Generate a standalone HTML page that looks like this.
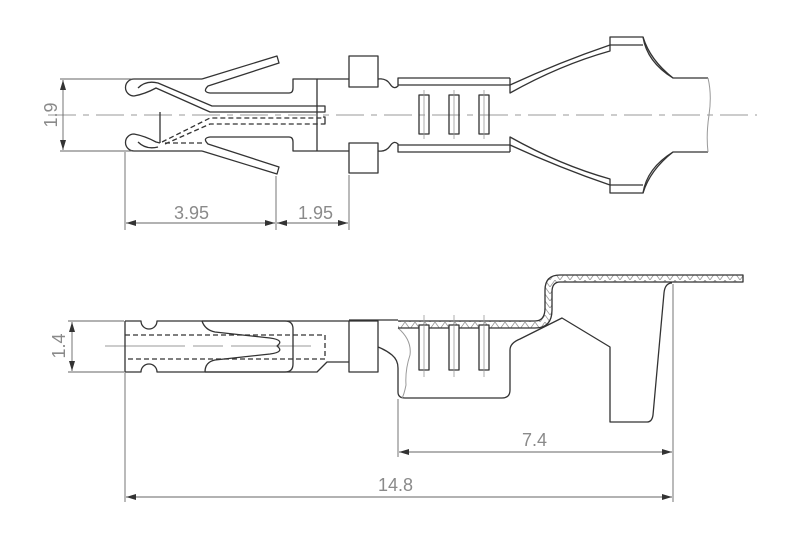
<!DOCTYPE html>
<html><head><meta charset="utf-8"><style>
html,body{margin:0;padding:0;background:#fff;}
svg{display:block;}
text{font-family:"Liberation Sans",sans-serif;fill:#8a8a8a;font-size:18px;}
</style></head><body>
<svg width="800" height="537" viewBox="0 0 800 537" xmlns="http://www.w3.org/2000/svg">
<defs>
<marker id="a" viewBox="0 0 10 6" refX="10" refY="3" markerWidth="10" markerHeight="6" orient="auto-start-reverse" markerUnits="userSpaceOnUse"><path d="M0,0 L10,3 L0,6z" fill="#333"/></marker>
<pattern id="h" width="10" height="7" patternUnits="userSpaceOnUse"><path d="M0,7 L5,0 L10,7" stroke="#999" fill="none" stroke-width="0.8"/></pattern>
</defs>
<g fill="none" stroke="#333" stroke-width="1.3" stroke-linejoin="round">
<line x1="48" y1="115" x2="757" y2="115" stroke="#999" stroke-width="1" stroke-dasharray="28,7,6,7"/>
<path d="M202,79 H134 A8.5,8.5 0 0 0 134,96 Q145,94 156,88 L210,112 H325 V106 H212 L158,83 Q146,80 138,88"/>
<path d="M202,79 L277,56 L279,63 L208,86 Q202,92 210,93 H289 Q293,93 293,88 V79 H317 V151"/>
<path d="M202,151 H134 A8.5,8.5 0 0 1 134,134 Q145,136 156,142 L160,143"/>
<path d="M138,142 Q146,150 158,147"/>
<path d="M202,151 L277,174 L279,167 L208,144 Q202,138 210,137 H289 Q293,137 293,142 V151 H317"/>
<line x1="160" y1="112" x2="160" y2="143"/>
<path d="M162,142 L210,118 H323 M165,144 L210,124 H323 M165,143 H203" stroke-dasharray="5,3"/>
<path d="M323,117 H325 V124 H323"/>
<rect x="349" y="56" width="29" height="31"/>
<rect x="349" y="143" width="29" height="30"/>
<path d="M317,79 H349 M317,151 H349"/>
<path d="M378,79 Q386,78 390,84 Q394,90 398,86 V78 H510 M398,85 H510"/>
<path d="M378,151 Q386,152 390,146 Q394,140 398,144 V152 H510 M398,145 H510"/>
<rect x="419" y="95" width="10" height="39"/><rect x="449" y="95" width="10" height="39"/><rect x="479" y="95" width="10" height="39"/>
<path d="M424,90 V139 M454,90 V139 M484,90 V139" stroke="#999" stroke-width="0.8"/>
<path d="M510,78 V93 Q560,65 610,51 V37 H643 Q650,60 673,78 H708"/>
<path d="M510,85 Q560,62 610,45 H643 M643,37 Q647,62 673,78"/>
<path d="M510,152 V137 Q560,165 610,179 V193 H643 Q650,170 673,152 H708"/>
<path d="M510,145 Q560,168 610,185 H643 M643,193 Q647,168 673,152"/>
<path d="M708,78 Q712,95 709,115 Q706,135 708,152" stroke="#999" stroke-width="1"/>
<g stroke="#666" stroke-width="0.9">
<path d="M60,79 H132 M60,151 H132"/>
<line x1="63" y1="80" x2="63" y2="150" marker-start="url(#a)" marker-end="url(#a)"/>
<path d="M125,152 V230 M276,176 V230 M349,175 V230"/>
<line x1="126" y1="223" x2="275" y2="223" marker-start="url(#a)" marker-end="url(#a)"/>
<line x1="277" y1="223" x2="348" y2="223" marker-start="url(#a)" marker-end="url(#a)"/>
</g>
<line x1="105" y1="346" x2="312" y2="346" stroke="#999" stroke-width="1" stroke-dasharray="80,8,30,8"/>
<path d="M125,321 H141 A8,8 0 0 0 157,321 H349 M125,321 V372 H141 A8,8 0 0 1 157,372 H317 L327,362 H349"/>
<path d="M202,321 Q205,330 215,332 L270,338 Q285,340 277,346 Q285,352 270,354 L215,360 Q205,362 205,372"/>
<path d="M202,321 H285 Q293,321 293,329 V364 Q293,372 285,372 H205"/>
<path d="M125,335 H325 V359 H125" stroke-dasharray="5,3"/>
<rect x="349" y="321" width="29" height="51"/>
<path d="M349,320 H398 M378,347 Q386,350 392,355 Q398,360 398,368 V392 Q398,398 405,398 H502 Q510,398 510,390 V350 Q510,343 520,339 L562,318 L610,347 V422 H647 Q652,422 653,415 L664,293 Q665,283 672,283"/>
<path d="M398,328 Q412,340 410,355 Q405,370 406,385 Q404,395 402,398" stroke="#999" stroke-width="1"/>
<path d="M398,321 H535 Q545,321 545,308 V290 Q545,275 560,275 H743 V282 H560 Q552,282 552,292 V310 Q552,328 535,328 H398" fill="url(#h)"/>
<rect x="419" y="325" width="10" height="45" fill="#fff"/><rect x="449" y="325" width="10" height="45" fill="#fff"/><rect x="479" y="325" width="10" height="45" fill="#fff"/>
<path d="M424,315 V377 M454,315 V377 M484,315 V377" stroke="#999" stroke-width="0.8"/>
<g stroke="#666" stroke-width="0.9">
<path d="M68,321 H124 M68,372 H124"/>
<line x1="72" y1="322" x2="72" y2="371" marker-start="url(#a)" marker-end="url(#a)"/>
<path d="M125,373 V502 M398,399 V457 M673,284 V502"/>
<line x1="399" y1="452" x2="672" y2="452" marker-start="url(#a)" marker-end="url(#a)"/>
<line x1="126" y1="497" x2="672" y2="497" marker-start="url(#a)" marker-end="url(#a)"/>
</g>
</g>
<text x="174" y="219">3.95</text>
<text x="298" y="219">1.95</text>
<text x="522" y="446">7.4</text>
<text x="378" y="491">14.8</text>
<text transform="translate(57,115) rotate(-90)" text-anchor="middle">1.9</text>
<text transform="translate(65,346) rotate(-90)" text-anchor="middle">1.4</text>
</svg>
</body></html>
